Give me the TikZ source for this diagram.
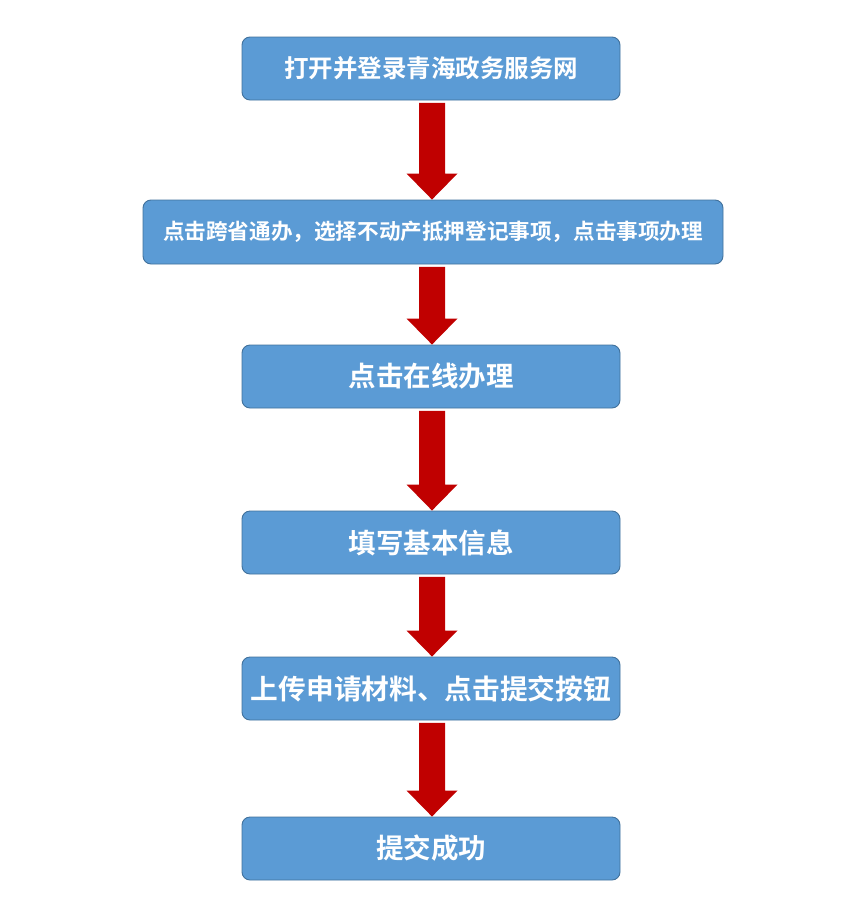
\documentclass[tikz,border=0pt]{standalone}
\usepackage{fontspec}
\usetikzlibrary{calc}
\newfontfamily\cjk{Noto Sans CJK SC}[BoldFont={* Bold}]
\definecolor{boxfill}{HTML}{5B9BD5}
\definecolor{boxline}{HTML}{41719C}
\definecolor{arrred}{HTML}{C00000}
\begin{document}
\begin{tikzpicture}[x=1pt,y=-1pt,
  stepbox/.style={draw=boxline, line width=0.9pt, fill=boxfill, rounded corners=8pt, text=white, font=\cjk\bfseries},
  bigarrow/.style={fill=arrred, draw=none}]
\useasboundingbox (0,0) rectangle (862,921);
% boxes
\node[stepbox, minimum width=378pt, minimum height=63pt, font=\cjk\bfseries\fontsize{24.5}{28}\selectfont] (b1) at (431,68.5) {打开并登录青海政务服务网};
\node[stepbox, minimum width=580pt, minimum height=64pt, font=\cjk\bfseries\fontsize{21.6}{24}\selectfont] (b2) at (433,232) {点击跨省通办，选择不动产抵押登记事项，点击事项办理};
\node[stepbox, minimum width=378pt, minimum height=63pt, font=\cjk\bfseries\fontsize{27.5}{30}\selectfont] (b3) at (431,376.5) {点击在线办理};
\node[stepbox, minimum width=378pt, minimum height=63pt, font=\cjk\bfseries\fontsize{27.5}{30}\selectfont] (b4) at (431,542.5) {填写基本信息};
\node[stepbox, minimum width=378pt, minimum height=63pt, font=\cjk\bfseries\fontsize{27.7}{30}\selectfont] (b5) at (431,688.5) {上传申请材料、点击提交按钮};
\node[stepbox, minimum width=378pt, minimum height=63pt, font=\cjk\bfseries\fontsize{27.5}{30}\selectfont] (b6) at (431,848.5) {提交成功};
% block arrows between boxes (all on the common axis of b1)
\foreach \a/\b in {b1/b2, b2/b3, b3/b4, b4/b5, b5/b6}{
  \fill[bigarrow] let \p1=(\a.south), \p2=(\b.north), \p3=(b1.south) in
    (\x3-12pt,\y1-2.5pt) -- (\x3+14pt,\y1-2.5pt) -- (\x3+14pt,\y2+26pt) -- (\x3+26.5pt,\y2+26pt)
    -- (\x3+1pt,\y2) -- (\x3-24.5pt,\y2+26pt) -- (\x3-12pt,\y2+26pt) -- cycle;
}
\end{tikzpicture}
\end{document}
